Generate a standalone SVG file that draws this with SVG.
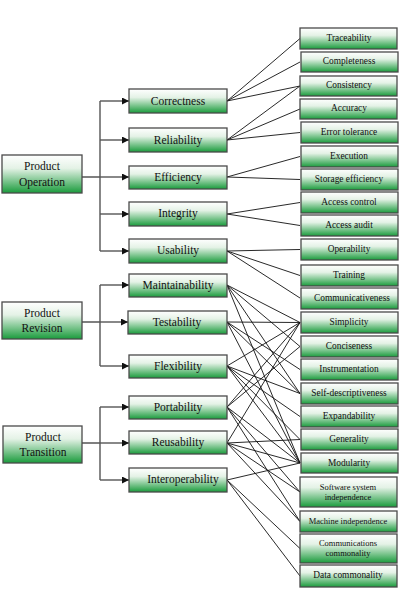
<svg xmlns="http://www.w3.org/2000/svg" width="400" height="591" viewBox="0 0 400 591">
<defs>
<linearGradient id="g" x1="0" y1="0" x2="0" y2="1">
<stop offset="0" stop-color="#ffffff"/>
<stop offset="0.35" stop-color="#e4f2e6"/>
<stop offset="1" stop-color="#1a9b3c"/>
</linearGradient>
<marker id="ar" viewBox="0 0 10 10" refX="10" refY="5" markerWidth="7" markerHeight="7" markerUnits="userSpaceOnUse" orient="auto">
<path d="M0,0 L10,5 L0,10 z" fill="#111"/>
</marker>
<style>
.b{fill:url(#g);stroke:#4a4a4a;stroke-width:1.3}
.t{font-family:"Liberation Serif","Times New Roman",serif;fill:#111;text-anchor:middle}
.m{font-size:11.5px}
.r{font-size:9.4px}
.s{font-size:8.5px}
.br{fill:none;stroke:#555;stroke-width:1.4}
.ab{fill:none;stroke:#555;stroke-width:1.4;marker-end:url(#ar)}
.c line{stroke:#111;stroke-width:0.9}
</style>
</defs>
<rect width="400" height="591" fill="#fff"/>

<!-- brackets -->
<g id="brackets">
<path class="br" d="M82,177 H100 M100,101 V251"/>
<line class="ab" x1="100" y1="101" x2="129" y2="101"/>
<line class="ab" x1="100" y1="140" x2="129" y2="140"/>
<line class="ab" x1="100" y1="177" x2="129" y2="177"/>
<line class="ab" x1="100" y1="214" x2="129" y2="214"/>
<line class="ab" x1="100" y1="251" x2="129" y2="251"/>
<path class="br" d="M82,322 H100 M100,285 V366"/>
<line class="ab" x1="100" y1="285" x2="129" y2="285"/>
<line class="ab" x1="100" y1="322" x2="128" y2="322"/>
<line class="ab" x1="100" y1="366" x2="129" y2="366"/>
<path class="br" d="M82,443 H100 M100,407 V480"/>
<line class="ab" x1="100" y1="407" x2="129" y2="407"/>
<line class="ab" x1="100" y1="443" x2="129" y2="443"/>
<line class="ab" x1="100" y1="480" x2="129" y2="480"/>
</g>

<!-- connectors -->
<g id="connectors" class="c">
<line x1="227" y1="101" x2="300" y2="38.5"/>
<line x1="227" y1="101" x2="300" y2="62"/>
<line x1="227" y1="101" x2="300" y2="86"/>
<line x1="227" y1="140" x2="300" y2="86"/>
<line x1="227" y1="140" x2="300" y2="109"/>
<line x1="227" y1="140" x2="300" y2="132.5"/>
<line x1="227" y1="177" x2="300" y2="156.5"/>
<line x1="227" y1="177" x2="300" y2="179.5"/>
<line x1="227" y1="214" x2="300" y2="202.5"/>
<line x1="227" y1="214" x2="300" y2="225.5"/>
<line x1="227" y1="251" x2="300" y2="249.5"/>
<line x1="227" y1="251" x2="300" y2="275.5"/>
<line x1="227" y1="251" x2="300" y2="298"/>
<line x1="227" y1="285" x2="300" y2="322.5"/>
<line x1="227" y1="285" x2="300" y2="346.5"/>
<line x1="227" y1="285" x2="300" y2="393.5"/>
<line x1="227" y1="285" x2="300" y2="463"/>
<line x1="227" y1="322" x2="300" y2="322.5"/>
<line x1="227" y1="322" x2="300" y2="369.5"/>
<line x1="227" y1="322" x2="300" y2="393.5"/>
<line x1="227" y1="322" x2="300" y2="463"/>
<line x1="227" y1="366" x2="300" y2="322.5"/>
<line x1="227" y1="366" x2="300" y2="393.5"/>
<line x1="227" y1="366" x2="300" y2="416.5"/>
<line x1="227" y1="366" x2="300" y2="439.5"/>
<line x1="227" y1="366" x2="300" y2="463"/>
<line x1="227" y1="407" x2="300" y2="322.5"/>
<line x1="227" y1="407" x2="300" y2="346.5"/>
<line x1="227" y1="407" x2="300" y2="463"/>
<line x1="227" y1="407" x2="300" y2="492"/>
<line x1="227" y1="407" x2="300" y2="521.5"/>
<line x1="227" y1="443" x2="300" y2="322.5"/>
<line x1="227" y1="443" x2="300" y2="439.5"/>
<line x1="227" y1="443" x2="300" y2="463"/>
<line x1="227" y1="443" x2="300" y2="492"/>
<line x1="227" y1="443" x2="300" y2="521.5"/>
<line x1="227" y1="480" x2="300" y2="463"/>
<line x1="227" y1="480" x2="300" y2="548.5"/>
<line x1="227" y1="480" x2="300" y2="576"/>
</g>

<!-- left nodes -->
<g id="product-operation"><rect class="b" x="2" y="155" width="80" height="38"/><text class="t m" x="42" y="170">Product</text><text class="t m" x="42" y="186">Operation</text></g>
<g id="product-revision"><rect class="b" x="2" y="302" width="80" height="37"/><text class="t m" x="42" y="317">Product</text><text class="t m" x="42" y="332">Revision</text></g>
<g id="product-transition"><rect class="b" x="3" y="426" width="79" height="37"/><text class="t m" x="43" y="441">Product</text><text class="t m" x="43" y="456">Transition</text></g>

<!-- middle nodes -->
<g id="correctness"><rect class="b" x="129" y="89" width="98" height="24"/><text class="t m" x="178" y="105">Correctness</text></g>
<g id="reliability"><rect class="b" x="129" y="128" width="98" height="24"/><text class="t m" x="178" y="144">Reliability</text></g>
<g id="efficiency"><rect class="b" x="129" y="166" width="98" height="23"/><text class="t m" x="178" y="181">Efficiency</text></g>
<g id="integrity"><rect class="b" x="129" y="202" width="98" height="24"/><text class="t m" x="178" y="217">Integrity</text></g>
<g id="usability"><rect class="b" x="129" y="239" width="98" height="24"/><text class="t m" x="178" y="254">Usability</text></g>
<g id="maintainability"><rect class="b" x="129" y="274" width="98" height="23"/><text class="t m" x="178" y="289">Maintainability</text></g>
<g id="testability"><rect class="b" x="128" y="311" width="99" height="23"/><text class="t m" x="177" y="326">Testability</text></g>
<g id="flexibility"><rect class="b" x="129" y="355" width="98" height="23"/><text class="t m" x="178" y="370">Flexibility</text></g>
<g id="portability"><rect class="b" x="129" y="396" width="98" height="23"/><text class="t m" x="178" y="411">Portability</text></g>
<g id="reusability"><rect class="b" x="129" y="431" width="98" height="23"/><text class="t m" x="178" y="446">Reusability</text></g>
<g id="interoperability"><rect class="b" x="129" y="468" width="98" height="24"/><text class="t m" x="183" y="483">Interoperability</text></g>

<!-- right nodes -->
<g id="traceability"><rect class="b" x="300" y="28" width="97" height="21"/><text class="t r" x="349" y="41">Traceability</text></g>
<g id="completeness"><rect class="b" x="301" y="52" width="97" height="20"/><text class="t r" x="349" y="64">Completeness</text></g>
<g id="consistency"><rect class="b" x="300" y="76" width="97" height="20"/><text class="t r" x="349" y="88">Consistency</text></g>
<g id="accuracy"><rect class="b" x="300" y="99" width="97" height="20"/><text class="t r" x="349" y="111">Accuracy</text></g>
<g id="error-tolerance"><rect class="b" x="301" y="122" width="97" height="21"/><text class="t r" x="349" y="135">Error tolerance</text></g>
<g id="execution"><rect class="b" x="301" y="146" width="97" height="21"/><text class="t r" x="349" y="159">Execution</text></g>
<g id="storage-efficiency"><rect class="b" x="301" y="169" width="97" height="21"/><text class="t r" x="349" y="182">Storage efficiency</text></g>
<g id="access-control"><rect class="b" x="301" y="192" width="97" height="21"/><text class="t r" x="349" y="205">Access control</text></g>
<g id="access-audit"><rect class="b" x="301" y="215" width="97" height="21"/><text class="t r" x="349" y="228">Access audit</text></g>
<g id="operability"><rect class="b" x="301" y="239" width="97" height="21"/><text class="t r" x="349" y="252">Operability</text></g>
<g id="training"><rect class="b" x="301" y="265" width="97" height="21"/><text class="t r" x="349" y="278">Training</text></g>
<g id="communicativeness"><rect class="b" x="301" y="288" width="97" height="21"/><text class="t r" x="352" y="301">Communicativeness</text></g>
<g id="simplicity"><rect class="b" x="301" y="312" width="97" height="21"/><text class="t r" x="349" y="325">Simplicity</text></g>
<g id="conciseness"><rect class="b" x="301" y="336" width="97" height="21"/><text class="t r" x="349" y="349">Conciseness</text></g>
<g id="instrumentation"><rect class="b" x="301" y="359" width="97" height="21"/><text class="t r" x="349" y="372">Instrumentation</text></g>
<g id="self-descriptiveness"><rect class="b" x="301" y="383" width="97" height="21"/><text class="t r" x="349" y="396">Self-descriptiveness</text></g>
<g id="expandability"><rect class="b" x="301" y="406" width="97" height="21"/><text class="t r" x="349" y="419">Expandability</text></g>
<g id="generality"><rect class="b" x="301" y="429" width="97" height="21"/><text class="t r" x="349" y="442">Generality</text></g>
<g id="modularity"><rect class="b" x="301" y="453" width="97" height="20"/><text class="t r" x="349" y="466">Modularity</text></g>
<g id="software-system-independence"><rect class="b" x="300" y="477" width="97" height="30"/><text class="t s" x="348" y="490">Software system</text><text class="t s" x="348" y="500">independence</text></g>
<g id="machine-independence"><rect class="b" x="300" y="511" width="97" height="21"/><text class="t s" x="348" y="524">Machine independence</text></g>
<g id="communications-commonality"><rect class="b" x="300" y="534" width="97" height="29"/><text class="t s" x="348" y="546">Communications</text><text class="t s" x="348" y="556">commonality</text></g>
<g id="data-commonality"><rect class="b" x="300" y="565" width="97" height="22"/><text class="t r" x="348" y="578">Data commonality</text></g>
</svg>
